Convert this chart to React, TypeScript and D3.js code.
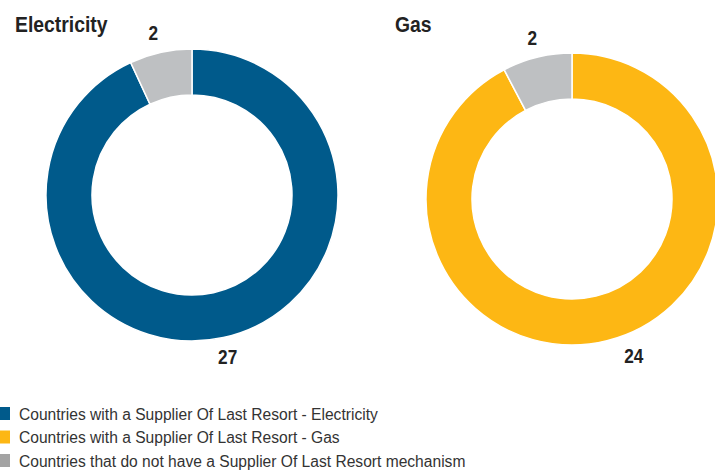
import React from 'react';
import * as d3 from 'd3';

const charts = ['Electricity', 'Gas'];
const withSolr = [27, 24];
const withoutSolr = [2, 2];
const legendLabels = [
  'Countries with a Supplier Of Last Resort - Electricity',
  'Countries with a Supplier Of Last Resort - Gas',
  'Countries that do not have a Supplier Of Last Resort mechanism',
];

const mainColors = ['#005a8b', '#fdb714'];
const greyColor = '#bec0c2';
const legendColors = ['#005a8b', '#fdb714', '#a3a3a3'];

export default function App() {
  const width = 715;
  const height = 472;
  const outerR = 146;
  const innerR = 100;
  const centers = [
    { x: 192, y: 195 },
    { x: 572, y: 199 },
  ];
  const titlePos = [15, 395];
  // small nudges for the value labels (Gas "24" sits off its centroid)
  const nudges = [
    [[0, 0], [-3, 0]],
    [[22, -4], [0, 0]],
  ];

  const pie = d3.pie<number>().sort(null).value((d) => d);
  const arc = d3.arc<d3.PieArcDatum<number>>().innerRadius(innerR).outerRadius(outerR);
  const labelArc = d3.arc<d3.PieArcDatum<number>>().innerRadius(166).outerRadius(166);

  return (
    <div style={{ position: 'absolute', left: 0, top: 0 }}>
      <svg width={width} height={height} style={{ display: 'block', fontFamily: 'Liberation Sans, Arial, sans-serif' }}>
        <rect width={width} height={height} fill="#ffffff" />
        {charts.map((name, i) => {
          const slices = pie([withSolr[i], withoutSolr[i]]);
          return (
            <g key={name}>
              <text
                transform={`translate(${titlePos[i]},32) scale(0.88,1)`}
                fontSize={22}
                fontWeight="bold"
                fill="#222"
              >
                {name}
              </text>
              <g transform={`translate(${centers[i].x},${centers[i].y})`}>
                {slices.map((s, j) => (
                  <path
                    key={j}
                    d={arc(s) || ''}
                    fill={j === 0 ? mainColors[i] : greyColor}
                    stroke="#ffffff"
                    strokeWidth={1.5}
                  />
                ))}
                {slices.map((s, j) => {
                  const [lx, ly] = labelArc.centroid(s);
                  return (
                    <text
                      key={'l' + j}
                      transform={`translate(${lx + nudges[i][j][0]},${ly + nudges[i][j][1]}) scale(0.82,1)`}
                      textAnchor="middle"
                      dominantBaseline="central"
                      fontSize={21}
                      fontWeight="bold"
                      fill="#222"
                    >
                      {s.data}
                    </text>
                  );
                })}
              </g>
            </g>
          );
        })}
        {legendLabels.map((label, i) => (
          <g key={label} transform={`translate(0,${414 + i * 23.5})`}>
            <rect x={0} y={-7} width={10} height={13} fill={legendColors[i]} />
            <text x={19} y={0} dominantBaseline="central" fontSize={15.6} fill="#333">
              {label}
            </text>
          </g>
        ))}
      </svg>
    </div>
  );
}
